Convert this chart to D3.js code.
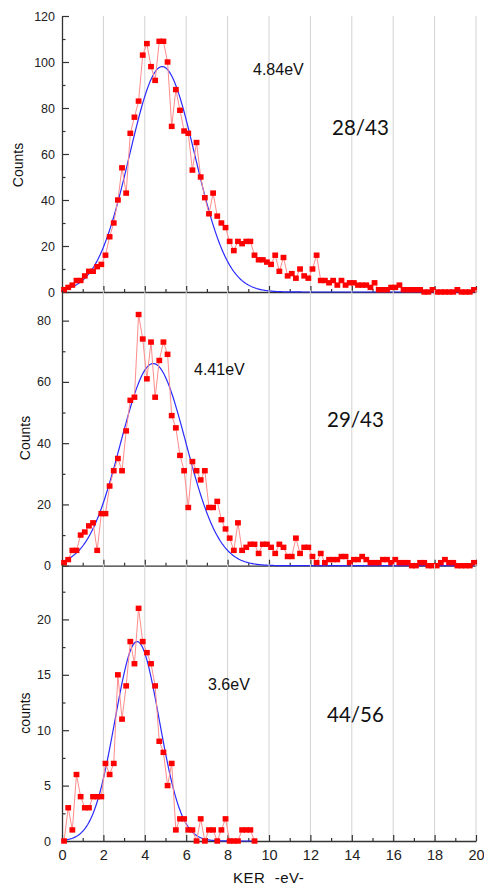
<!DOCTYPE html>
<html>
<head>
<meta charset="utf-8">
<script src="https://cdn.jsdelivr.net/npm/d3@7"></script>
<style>
  body { margin: 0; background: #fff; }
  svg { display: block; }
</style>
</head>
<body>
<svg id="chart" width="484" height="886"></svg>
<script>
// histogram bins: centres start at 0.1 eV, 0.2 eV wide
var binStart = 0.1, binWidth = 0.2;

var countsTop = [
  1, 2, 3, 5, 5, 7, 9, 9, 11, 12,
  16, 24, 30, 40, 54, 43, 69, 76, 83, 103,
  108, 98, 92, 109, 109, 100, 72, 88, 79, 70,
  69, 53, 65, 50, 41, 34, 43, 33, 30, 28,
  22, 18, 22, 21, 22, 22, 16, 14, 14, 13,
  12, 16, 9, 15, 7, 8, 6, 10, 7, 6,
  10, 16, 5, 5, 4, 5, 3, 5, 3, 4,
  4, 3, 3, 3, 2, 4, 1, 1, 1, 2,
  2, 3, 1, 1, 1, 1, 1, 0, 0, 1,
  0, 0, 0, 0, 0, 1, 0, 0, 0, 1
];
var countsMid = [
  1, 2, 5, 5, 10, 11, 13, 14, 5, 17,
  17, 26, 31, 35, 31, 44, 54, 55, 82, 74,
  61, 73, 55, 67, 73, 69, 49, 45, 36, 31,
  19, 34, 31, 28, 31, 19, 19, 21, 15, 12,
  9, 5, 14, 5, 6, 7, 7, 4, 7, 7,
  6, 4, 7, 6, 3, 3, 9, 4, 6, 6,
  3, 1, 4, 1, 2, 2, 2, 3, 3, 1,
  2, 2, 3, 2, 1, 1, 1, 2, 2, 1,
  2, 1, 1, 1, 0, 0, 1, 1, 0, 0,
  0, 1, 2, 1, 1, 0, 0, 0, 0, 1
];
var countsBot = [
  0, 3, 1, 6, 4, 3, 3, 4, 4, 4,
  7, 6, 7, 15, 11, 14, 18, 16, 21, 18,
  17, 16, 14, 9, 8, 5, 7, 1, 2, 2,
  1, 1, 0, 2, 0, 1, 1, 0, 1, 2,
  0, 0, 0, 1, 1, 1, 0
];

// gaussian fit parameters [amplitude, centre, sigma]
var fitTop = [98, 4.84, 1.58];
var fitMid = [66, 4.41, 1.58];
var fitBot = [18, 3.63, 1.07];

var peakLabels = ["4.84eV", "4.41eV", "3.6eV"];
var ionLabels = ["28/43", "29/43", "44/56"];
var yTitles = ["Counts", "Counts", "counts"];
var xTicks = [0, 2, 4, 6, 8, 10, 12, 14, 16, 18, 20];
var yTicksTop = [0, 20, 40, 60, 80, 100, 120];
var yTicksMid = [0, 20, 40, 60, 80];
var yTicksBot = [0, 5, 10, 15, 20];

var svg = d3.select("#chart");

var x = d3.scaleLinear().domain([0, 20]).range([62, 476]);

var panels = [
  { counts: countsTop, fit: fitTop, ticks: yTicksTop, ymax: 120, y0: 292, y1: 16, minor: 10, pad: 7,
    titleX: 23, titleY: 165, peakX: 253, peakY: 75, ionX: 332, ionY: 135 },
  { counts: countsMid, fit: fitMid, ticks: yTicksMid, ymax: 90, y0: 565.7, y1: 290, minor: 10, pad: 11,
    titleX: 30, titleY: 438, peakX: 194, peakY: 375, ionX: 327, ionY: 427 },
  { counts: countsBot, fit: fitBot, ticks: yTicksBot, ymax: 25, y0: 841, y1: 564, minor: 2.5, pad: 11,
    titleX: 30, titleY: 713, peakX: 208, peakY: 690, ionX: 327, ionY: 722 }
];

panels.forEach(function (p, i) {
  var y = d3.scaleLinear().domain([0, p.ymax]).range([p.y0, p.y1]);
  var g = svg.append("g");

  // vertical grid
  g.selectAll(".grid")
    .data(xTicks.slice(1))
    .enter()
    .append("line")
    .attr("x1", function (d) { return x(d); })
    .attr("x2", function (d) { return x(d); })
    .attr("y1", p.y0)
    .attr("y2", p.y1)
    .attr("stroke", "#d2d2d2")
    .attr("stroke-width", 1);

  // y axis, inward ticks
  var step = p.ticks[1] - p.ticks[0];
  var minors = d3.range(p.minor, p.ymax, step);
  var yAxisG = g.append("g")
    .attr("transform", "translate(62,0)")
    .call(d3.axisLeft(y).tickValues(p.ticks).tickSize(-7).tickSizeOuter(0).tickPadding(p.pad));
  g.append("g")
    .attr("transform", "translate(62,0)")
    .call(d3.axisLeft(y).tickValues(minors).tickSize(-3.5).tickSizeOuter(0).tickFormat(""))
    .select(".domain").remove();

  // x axis
  var xAxis = d3.axisBottom(x).tickValues(xTicks).tickSize(-6).tickSizeOuter(0).tickPadding(9);
  if (i < 2) xAxis.tickFormat("");
  var xAxisG = g.append("g")
    .attr("transform", "translate(0," + p.y0 + ")")
    .call(xAxis);
  g.append("g")
    .attr("transform", "translate(0," + p.y0 + ")")
    .call(d3.axisBottom(x).tickValues(d3.range(1, 20, 2)).tickSize(-3).tickSizeOuter(0).tickFormat(""))
    .select(".domain").remove();

  g.selectAll(".domain").attr("stroke", "#333").attr("stroke-width", 1.3);
  g.selectAll(".tick line").attr("stroke", "#333").attr("stroke-width", 1.2);
  yAxisG.selectAll("text")
    .attr("font-family", "Liberation Sans, Arial, sans-serif")
    .attr("font-size", 12.5)
    .attr("fill", "#222");
  xAxisG.selectAll("text")
    .attr("font-family", "Liberation Sans, Arial, sans-serif")
    .attr("font-size", 14.5)
    .attr("fill", "#222");

  // gaussian fit curve
  var xs = p.counts.map(function (c, k) { return binStart + k * binWidth; });
  var xEnd = xs[xs.length - 1];
  var A = p.fit[0], xc = p.fit[1], s = p.fit[2];
  var curve = d3.range(0, xEnd + 0.001, 0.05).map(function (v) {
    return [v, A * Math.exp(-(v - xc) * (v - xc) / (2 * s * s))];
  });
  g.append("path")
    .datum(curve)
    .attr("fill", "none")
    .attr("stroke", "#2a2aff")
    .attr("stroke-width", 1.2)
    .attr("d", d3.line()
      .x(function (d) { return x(d[0]); })
      .y(function (d) { return y(d[1]); }));

  // data: connecting line + square markers
  var pts = p.counts.map(function (c, k) { return [xs[k], c]; });
  g.append("path")
    .datum(pts)
    .attr("fill", "none")
    .attr("stroke", "#ff8c8c")
    .attr("stroke-width", 1)
    .attr("d", d3.line()
      .x(function (d) { return x(d[0]); })
      .y(function (d) { return y(d[1]); }));
  g.selectAll(".pt")
    .data(pts)
    .enter()
    .append("rect")
    .attr("x", function (d) { return x(d[0]) - 2.9; })
    .attr("y", function (d) { return y(d[1]) - 2.7; })
    .attr("width", 5.8)
    .attr("height", 5.4)
    .attr("fill", "#ff0000");

  // texts
  g.append("text")
    .attr("transform", "translate(" + p.titleX + "," + p.titleY + ") rotate(-90)")
    .attr("text-anchor", "middle")
    .attr("font-family", "Liberation Sans, Arial, sans-serif")
    .attr("font-size", 14)
    .attr("fill", "#111")
    .text(yTitles[i]);
  g.append("text")
    .attr("x", p.peakX)
    .attr("y", p.peakY)
    .attr("font-family", "Liberation Sans, Arial, sans-serif")
    .attr("font-size", 16)
    .attr("fill", "#111")
    .text(peakLabels[i]);
  g.append("text")
    .attr("x", p.ionX)
    .attr("y", p.ionY)
    .attr("font-family", "Lato, Open Sans, sans-serif")
    .attr("font-size", 20.5)
    .attr("fill", "#111")
    .text(ionLabels[i]);
});

svg.append("text")
  .attr("x", 233)
  .attr("y", 883)
  .attr("font-family", "Liberation Sans, Arial, sans-serif")
  .attr("font-size", 15)
  .attr("letter-spacing", 0.5)
  .attr("fill", "#111")
  .style("white-space", "pre")
  .text("KER  -eV-");
</script>
</body>
</html>
